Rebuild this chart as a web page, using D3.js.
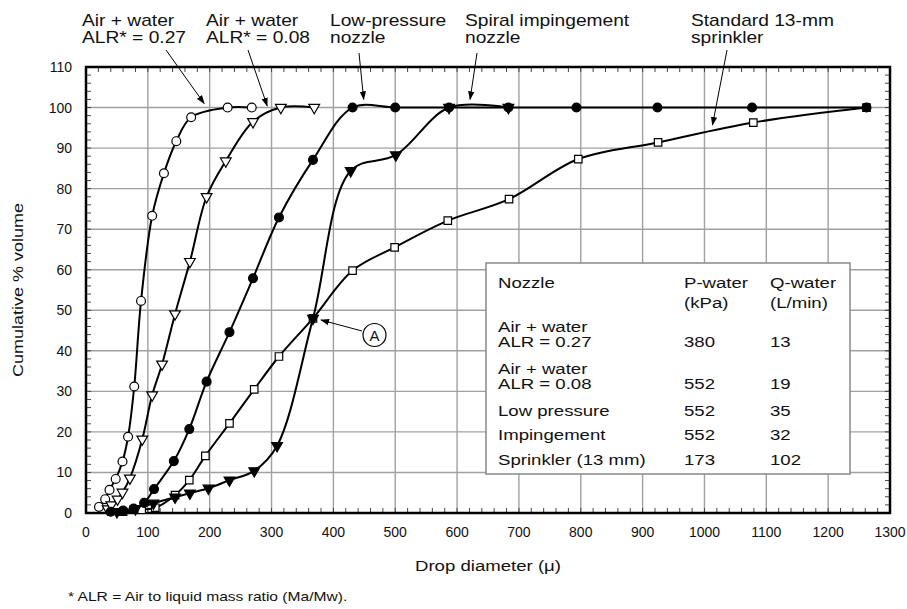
<!DOCTYPE html>
<html>
<head>
<meta charset="utf-8">
<script src="https://cdn.jsdelivr.net/npm/d3@7"></script>
<style>
  body { margin: 0; background: #fff; }
  text { font-family: "Liberation Sans", Arial, sans-serif; fill: #111; }
</style>
</head>
<body>
<div id="chart"></div>
<script>
// drop size distributions, [diameter (micron), cumulative % volume]
var alr27 = [[21,1.5],[31,3.4],[38,5.7],[48,8.4],[59,12.7],[68,18.8],[78,31.2],[89,52.3],[107,73.3],[126,83.8],[146,91.7],[170,97.6],[229,100],[268,100]];
var alr08 = [[35,1],[41,2],[51,3.4],[59,5.1],[71,8.6],[91,18.2],[107,29.1],[123,36.7],[144,49.1],[168,62],[195,78],[226,86.8],[270,96.5],[315,100],[369,100]];
var lowPressure = [[40,0.3],[60,0.6],[77,1.1],[94,2.5],[110,5.9],[142,12.8],[167,20.7],[195,32.4],[232,44.6],[270,57.9],[312,72.9],[367,87.1],[431,100],[500,100],[587,100],[683,100],[793,100],[924,100],[1077,100],[1262,100]];
var impingement = [[50,0.3],[80,1],[109,2.4],[144,3.9],[168,4.9],[198,6.1],[232,8.1],[272,10.4],[309,16.6],[367,48],[428,84.4],[501,88.3],[587,100],[683,100]];
var sprinkler = [[60,0.3],[90,0.8],[112,1.3],[144,4.4],[167,8.1],[193,14.1],[232,22.1],[272,30.5],[312,38.6],[367,48],[431,59.8],[499,65.5],[585,72.1],[684,77.4],[796,87.3],[925,91.4],[1079,96.3],[1262,100]];

var xTicks = d3.range(0, 1301, 100);
var yTicks = d3.range(0, 111, 10);

// legend table
var nozzles = [["Air + water", "ALR = 0.27"], ["Air + water", "ALR = 0.08"], ["Low pressure"], ["Impingement"], ["Sprinkler (13 mm)"]];
var pWater = ["380", "552", "552", "552", "173"];
var qWater = ["13", "19", "35", "32", "102"];

var margin = { top: 67, right: 17, bottom: 96, left: 86 },
    W = 907, H = 609,
    width = W - margin.left - margin.right,
    height = H - margin.top - margin.bottom;

var svg = d3.select("#chart").append("svg")
    .attr("width", W).attr("height", H);

svg.append("defs").append("marker")
    .attr("id", "arrow")
    .attr("viewBox", "0 0 10 10")
    .attr("refX", 9).attr("refY", 5)
    .attr("markerWidth", 9).attr("markerHeight", 9)
    .attr("markerUnits", "userSpaceOnUse")
    .attr("orient", "auto")
    .append("path").attr("d", "M0,1.5 L10,5 L0,8.5 Z").attr("fill", "#000");

// the figure's lettering is a little wide, so stretch it sideways
function label(parent, xx, yy, s, size, extra) {
  return parent.append("text")
    .attr("transform", "translate(" + xx + "," + yy + ")" + (extra || "") + " scale(1.2,1)")
    .style("font-size", size + "px")
    .text(s);
}

var g = svg.append("g").attr("transform", "translate(" + margin.left + "," + margin.top + ")");

var x = d3.scaleLinear().domain([0, 1300]).range([0, width]);
var y = d3.scaleLinear().domain([0, 110]).range([height, 0]);

// grid
g.selectAll(".gx").data(xTicks.slice(1, -1)).enter().append("line")
    .attr("x1", d => x(d)).attr("x2", d => x(d))
    .attr("y1", 0).attr("y2", height)
    .attr("stroke", "#a0a0a0").attr("stroke-width", 1.4);
g.selectAll(".gy").data(yTicks.slice(1, -1)).enter().append("line")
    .attr("y1", d => y(d)).attr("y2", d => y(d))
    .attr("x1", 0).attr("x2", width)
    .attr("stroke", "#a0a0a0").attr("stroke-width", 1.4);

// minor ticks, inward on all four sides
var xMinor = d3.range(0, 1301, 20);
var yMinor = d3.range(0, 111, 2);
var tk = 5;
g.selectAll(".mxb").data(xMinor).enter().append("line")
    .attr("x1", d => x(d)).attr("x2", d => x(d)).attr("y1", height).attr("y2", height - tk)
    .attr("stroke", "#444").attr("stroke-width", 1);
g.selectAll(".mxt").data(xMinor).enter().append("line")
    .attr("x1", d => x(d)).attr("x2", d => x(d)).attr("y1", 0).attr("y2", tk)
    .attr("stroke", "#444").attr("stroke-width", 1);
g.selectAll(".myl").data(yMinor).enter().append("line")
    .attr("y1", d => y(d)).attr("y2", d => y(d)).attr("x1", 0).attr("x2", tk)
    .attr("stroke", "#444").attr("stroke-width", 1);
g.selectAll(".myr").data(yMinor).enter().append("line")
    .attr("y1", d => y(d)).attr("y2", d => y(d)).attr("x1", width).attr("x2", width - tk)
    .attr("stroke", "#444").attr("stroke-width", 1);

// frame
g.append("rect").attr("width", width).attr("height", height)
    .attr("fill", "none").attr("stroke", "#000").attr("stroke-width", 2.5);

// tick labels
g.selectAll(".xl").data(xTicks).enter().append("text")
    .attr("x", d => x(d)).attr("y", height + 24)
    .attr("text-anchor", "middle").style("font-size", "14px")
    .text(d => d);
g.selectAll(".yl").data(yTicks).enter().append("text")
    .attr("x", -14).attr("y", d => y(d) + 5)
    .attr("text-anchor", "end").style("font-size", "14px")
    .text(d => d);

label(svg, margin.left + x(650), 571, "Drop diameter (\u03bc)", 15.5).attr("text-anchor", "middle");
label(svg, 23, margin.top + y(55), "Cumulative % volume", 15, " rotate(-90)").attr("text-anchor", "middle");
label(svg, 68, 601, "* ALR = Air to liquid mass ratio (Ma/Mw).", 13);

// table box
var tb = svg.append("g");
tb.append("rect").attr("x", 486).attr("y", 263).attr("width", 364).attr("height", 211)
    .attr("fill", "#fff").attr("stroke", "#888").attr("stroke-width", 1.5);
var col = [498, 684, 770];
function tt(xx, yy, s) { label(tb, xx, yy, s, 15.5); }
tt(col[0], 288, "Nozzle");
tt(col[1], 288, "P-water"); tt(col[1], 308, "(kPa)");
tt(col[2], 288, "Q-water"); tt(col[2], 308, "(L/min)");
var rowY = [347, 389, 416, 440, 465];
nozzles.forEach(function(n, i) {
  n.forEach(function(s, j) { tt(col[0], rowY[i] - (n.length - 1 - j) * 15.5, s); });
  tt(col[1], rowY[i], pWater[i]);
  tt(col[2], rowY[i], qWater[i]);
});

// curves
var line = d3.line().x(d => x(d[0])).y(d => y(d[1])).curve(d3.curveCatmullRom.alpha(0.5));
var series = [
  { data: sprinkler, shape: "square", fill: "#fff" },
  { data: alr27, shape: "circle", fill: "#fff" },
  { data: alr08, shape: "tri", fill: "#fff" },
  { data: lowPressure, shape: "circle", fill: "#000" },
  { data: impingement, shape: "tri", fill: "#000" }
];
series.forEach(function(s) {
  g.append("path").datum(s.data).attr("d", line)
    .attr("fill", "none").attr("stroke", "#000").attr("stroke-width", 2);
});
series.forEach(function(s) {
  var sym = s.shape === "circle" ? d3.symbol().type(d3.symbolCircle).size(62)
          : s.shape === "square" ? d3.symbol().type(d3.symbolSquare).size(56)
          : d3.symbol().type(d3.symbolTriangle).size(50);
  g.selectAll(null).data(s.data).enter().append("path")
    .attr("d", sym)
    .attr("transform", d => "translate(" + x(d[0]) + "," + y(d[1]) + ")" + (s.shape === "tri" ? " rotate(180)" : ""))
    .attr("fill", s.fill).attr("stroke", "#000").attr("stroke-width", 1.2);
});

// annotations
var notes = [
  { lines: ["Air + water", "ALR* = 0.27"], tx: 82, ax: 166, ay: 50, tip: [191, 101] },
  { lines: ["Air + water", "ALR* = 0.08"], tx: 206, ax: 248, ay: 50, tip: [293, 100.4] },
  { lines: ["Low-pressure", "nozzle"], tx: 330, ax: 359, ay: 53, tip: [449, 102] },
  { lines: ["Spiral impingement", "nozzle"], tx: 465, ax: 477, ay: 53, tip: [621, 102] },
  { lines: ["Standard 13-mm", "sprinkler"], tx: 691, ax: 727, ay: 50, tip: [1013, 95.7] }
];
notes.forEach(function(n) {
  n.lines.forEach(function(s, j) {
    label(svg, n.tx, 26 + j * 17, s, 16);
  });
  svg.append("line").attr("x1", n.ax).attr("y1", n.ay)
    .attr("x2", margin.left + x(n.tip[0])).attr("y2", margin.top + y(n.tip[1]))
    .attr("stroke", "#000").attr("stroke-width", 1).attr("marker-end", "url(#arrow)");
});

// point A
svg.append("line").attr("x1", 362).attr("y1", 331)
  .attr("x2", margin.left + x(380)).attr("y2", margin.top + y(47.6))
  .attr("stroke", "#000").attr("stroke-width", 1).attr("marker-end", "url(#arrow)");
svg.append("circle").attr("cx", 374.5).attr("cy", 335).attr("r", 11.5)
  .attr("fill", "#fff").attr("stroke", "#000").attr("stroke-width", 1.2);
svg.append("text").attr("x", 374.5).attr("y", 340.5).attr("text-anchor", "middle")
  .style("font-size", "15px").text("A");
</script>
</body>
</html>
